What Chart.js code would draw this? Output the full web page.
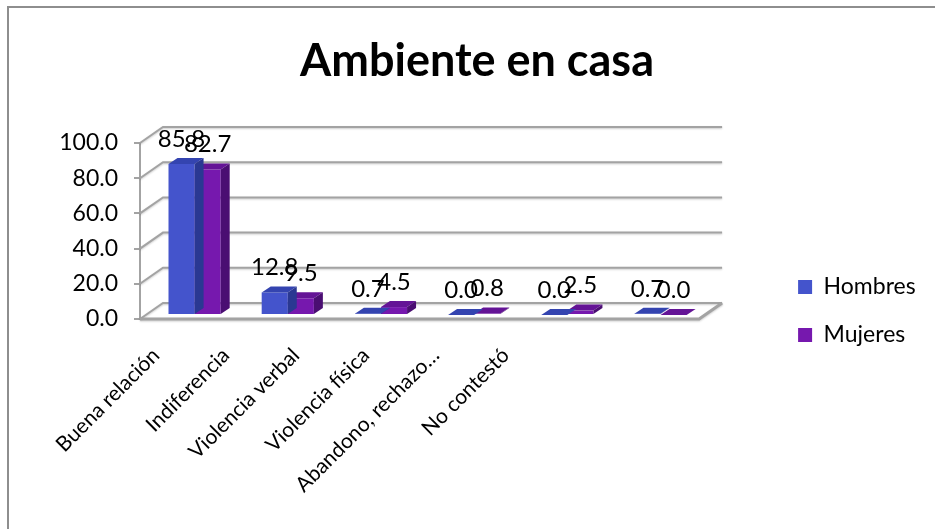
<!DOCTYPE html>
<html>
<head>
<meta charset="utf-8">
<title>Ambiente en casa</title>
<script src="https://cdn.jsdelivr.net/npm/chart.js@4.4.1/dist/chart.umd.min.js"></script>
<style>
  html, body { margin: 0; padding: 0; background: #fff; }
  #wrap { position: relative; width: 935px; height: 529px; overflow: hidden; }
  #frame { position: absolute; left: 7px; top: 6px; width: 1000px; height: 600px;
           border-left: 2px solid #8e8e8e; border-top: 2px solid #8e8e8e; }
  #chart { position: absolute; left: 0; top: 0; }
</style>
</head>
<body>
<div id="wrap">
  <div id="frame"></div>
  <canvas id="chart" width="935" height="529"></canvas>
</div>
<script>
const categories = ["Buena relación", "Indiferencia", "Violencia verbal", "Violencia física", "Abandono, rechazo…", "No contestó"];
const hombres = [85.8, 12.8, 0.7, 0.0, 0.0, 0.7];
const mujeres = [82.7, 9.5, 4.5, 0.8, 2.5, 0.0];
const yTicks = [0, 20, 40, 60, 80, 100];

// front plane of the 3d box (where the y axis and floor edge sit)
const PLOT_LEFT = 140, PLOT_RIGHT = 698, PLOT_TOP = 143, PLOT_BOTTOM = 319;
const W = 935, H = 529;
const DEPTH = { x: 23, y: -16 };      // wall depth
const BAR_SHIFT = { x: 8, y: -4 };    // bars sit a bit inside the box
const BAR_DEPTH = { x: 9, y: -6 };
const GRID_COLOR = "#a3a3a3";

const colors = {
  hombres: { front: "#4454cc", top: "#3444b0", side: "#2a3892" },
  mujeres: { front: "#7618ae", top: "#641496", side: "#4a0e72" },
};

// x labels are squeezed compared to the bars in the original, so they get their own axis
const LABEL_FIRST = 156, LABEL_STEP = 69.8;
const labelMin = -(LABEL_FIRST - PLOT_LEFT) / LABEL_STEP;
const labelMax = labelMin + (PLOT_RIGHT - PLOT_LEFT) / LABEL_STEP;

Chart.defaults.font.family = "Lato";
Chart.defaults.color = "#000";

// legend width depends on the text, work it out so the legend lands where it should
const LEG_FONT = 23, LEG_BOX = 14, LEG_PAD = 25, LEG_LEFT = 772;
const meas = document.createElement("canvas").getContext("2d");
meas.font = LEG_FONT + "px Lato";
const legTextW = Math.max(meas.measureText("Hombres").width, meas.measureText("Mujeres").width);
const legendW = LEG_PAD + LEG_BOX + LEG_FONT / 2 + legTextW + 6.6;
const padRight = W - LEG_LEFT - legendW;
const padLeft = 19 + padRight; // keeps the title centred like the original

const bar3d = {
  id: "bar3d",
  beforeDatasetsDraw(chart) {
    const { ctx, chartArea: { left, right }, scales: { y } } = chart;
    ctx.save();
    ctx.strokeStyle = GRID_COLOR;
    ctx.lineWidth = 2;
    ctx.shadowColor = "rgba(0,0,0,0.2)";
    ctx.shadowBlur = 2;
    ctx.shadowOffsetY = 1;
    yTicks.forEach(v => {
      const py = y.getPixelForValue(v);
      ctx.beginPath();
      ctx.moveTo(left, py);
      ctx.lineTo(left + DEPTH.x, py + DEPTH.y);
      ctx.lineTo(right + DEPTH.x, py + DEPTH.y);
      ctx.stroke();
    });
    const p0 = y.getPixelForValue(0);
    ctx.lineWidth = 3;
    ctx.beginPath();
    ctx.moveTo(left, p0);
    ctx.lineTo(right, p0);
    ctx.lineTo(right + DEPTH.x, p0 + DEPTH.y);
    ctx.stroke();
    ctx.restore();

    ctx.save();
    ctx.translate(BAR_SHIFT.x, BAR_SHIFT.y);
  },
  afterDatasetDraw(chart, args) {
    const ctx = chart.ctx;
    const c = args.index === 0 ? colors.hombres : colors.mujeres;
    args.meta.data.forEach(bar => {
      const { x, y, base, width } = bar.getProps(["x", "y", "base", "width"], true);
      const l = x - width / 2, r = x + width / 2;
      ctx.fillStyle = c.top;
      ctx.beginPath();
      ctx.moveTo(l, y);
      ctx.lineTo(l + BAR_DEPTH.x, y + BAR_DEPTH.y);
      ctx.lineTo(r + BAR_DEPTH.x, y + BAR_DEPTH.y);
      ctx.lineTo(r, y);
      ctx.closePath();
      ctx.fill();
      ctx.fillStyle = c.side;
      ctx.beginPath();
      ctx.moveTo(r, y);
      ctx.lineTo(r + BAR_DEPTH.x, y + BAR_DEPTH.y);
      ctx.lineTo(r + BAR_DEPTH.x, base + BAR_DEPTH.y);
      ctx.lineTo(r, base);
      ctx.closePath();
      ctx.fill();
    });
  },
  afterDatasetsDraw(chart) {
    const ctx = chart.ctx;
    ctx.restore();
    // value labels
    ctx.save();
    ctx.font = "24px Lato";
    ctx.fillStyle = "#000";
    ctx.textAlign = "center";
    ctx.textBaseline = "middle";
    chart.data.datasets.forEach((ds, i) => {
      chart.getDatasetMeta(i).data.forEach((bar, j) => {
        const { x, y } = bar.getProps(["x", "y"], true);
        ctx.fillText(ds.data[j].toFixed(1), x + BAR_SHIFT.x, y + BAR_SHIFT.y - 25);
      });
    });
    ctx.restore();
  }
};

new Chart(document.getElementById("chart"), {
  type: "bar",
  data: {
    labels: categories,
    datasets: [
      { label: "Hombres", data: hombres, backgroundColor: colors.hombres.front, borderWidth: 0, clip: false },
      { label: "Mujeres", data: mujeres, backgroundColor: colors.mujeres.front, borderWidth: 0, clip: false },
    ],
  },
  options: {
    responsive: false,
    animation: false,
    devicePixelRatio: 1,
    layout: { padding: { left: padLeft, right: padRight, top: 0, bottom: 0 } },
    datasets: { bar: { categoryPercentage: 0.56, barPercentage: 1 } },
    scales: {
      x: { display: false },
      xl: {
        type: "linear",
        position: "bottom",
        offset: false,
        min: labelMin,
        max: labelMax,
        afterBuildTicks: s => { s.ticks = categories.map((_, i) => ({ value: i })); },
        afterFit: s => { s.height = H - PLOT_BOTTOM; },
        grid: { display: false, drawTicks: false },
        border: { display: false },
        ticks: {
          autoSkip: false, minRotation: 45, maxRotation: 45, padding: 24,
          font: { size: 21 },
          callback: v => categories[v],
        },
      },
      y: {
        min: 0,
        max: 100,
        afterFit: s => { s.width = PLOT_LEFT - padLeft; },
        grid: { drawOnChartArea: false, tickLength: 6, color: GRID_COLOR, lineWidth: 2 },
        border: { color: GRID_COLOR, width: 2 },
        ticks: { stepSize: 20, padding: 16, font: { size: 23 }, callback: v => v.toFixed(1) },
      },
      yr: {
        type: "linear",
        position: "right",
        afterFit: s => { s.width = LEG_LEFT - PLOT_RIGHT; },
        grid: { display: false, drawTicks: false },
        border: { display: false },
        ticks: { display: false },
      },
    },
    plugins: {
      title: {
        display: true,
        text: "Ambiente en casa",
        font: { size: 45, weight: "bold" },
        padding: { top: 34, bottom: PLOT_TOP - 34 - 54 },
      },
      legend: {
        position: "right",
        align: "center",
        // empty title used as a spacer so the two entries sit low like the original
        title: { display: true, text: "", font: { size: 10, lineHeight: 1 }, padding: { top: 0, bottom: 83 } },
        labels: { boxWidth: LEG_BOX, boxHeight: LEG_BOX, padding: LEG_PAD, font: { size: LEG_FONT } },
      },
      tooltip: { enabled: false },
    },
  },
  plugins: [bar3d],
});
</script>
</body>
</html>
